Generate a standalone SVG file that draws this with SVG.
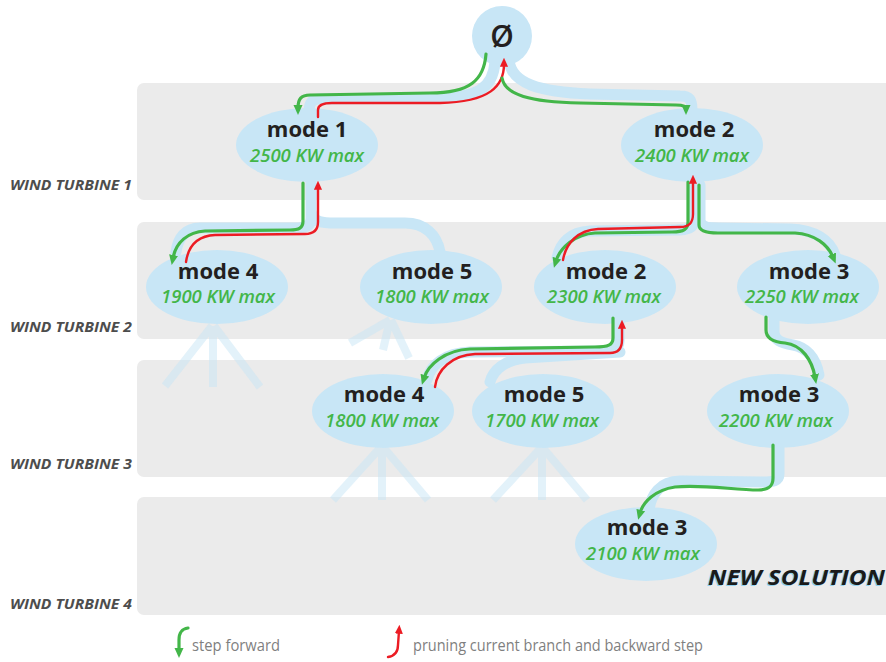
<svg xmlns="http://www.w3.org/2000/svg" width="886" height="662" viewBox="0 0 886 662">
<style>
.band{fill:#ebebeb}
.node{fill:#c8e6f6}
.title{font-family:"Open Sans","Noto Sans",sans-serif;font-weight:700;font-size:22px;fill:#231f20;text-anchor:middle}
.val{font-family:"Open Sans","Noto Sans",sans-serif;font-weight:600;font-style:italic;font-size:18.5px;fill:#43b649;text-anchor:middle}
.wt{font-family:"Open Sans","Noto Sans",sans-serif;font-weight:700;font-style:italic;font-size:13.5px;fill:#4d4d4d}
.tree{fill:none;stroke:#c8e6f6;stroke-width:11;stroke-linecap:round;stroke-linejoin:round}
.stub{fill:none;stroke:#c8e6f6;stroke-opacity:0.5;stroke-width:8}
.fwd{fill:none;stroke:#43b649;stroke-width:3.2;stroke-linecap:round;marker-end:url(#gh)}
.back{fill:none;stroke:#ec1c24;stroke-width:2.4;stroke-linecap:round;marker-end:url(#rh)}
.leg{font-family:"Open Sans","Noto Sans",sans-serif;font-size:17px;fill:#7f7f7f}
</style>
<defs>
<marker id="gh" viewBox="0 0 10 10" refX="3" refY="5" markerWidth="10" markerHeight="10" markerUnits="userSpaceOnUse" orient="auto">
<path d="M0,0.5 L10,5 L0,9.5 z" fill="#43b649"/>
</marker>
<marker id="rh" viewBox="0 0 10 10" refX="3" refY="5" markerWidth="9" markerHeight="9" markerUnits="userSpaceOnUse" orient="auto">
<path d="M0,0.5 L10,5 L0,9.5 z" fill="#ec1c24"/>
</marker>
</defs>
<rect width="886" height="662" fill="#ffffff"/>
<g id="bands">
<rect class="band" x="137" y="83" width="760" height="117" rx="7"/>
<rect class="band" x="137" y="222" width="760" height="117" rx="7"/>
<rect class="band" x="137" y="360" width="760" height="117" rx="7"/>
<rect class="band" x="137" y="497" width="760" height="118" rx="7"/>
<text class="wt" x="10" y="190" textLength="122" lengthAdjust="spacingAndGlyphs">WIND TURBINE 1</text>
<text class="wt" x="10" y="332" textLength="122" lengthAdjust="spacingAndGlyphs">WIND TURBINE 2</text>
<text class="wt" x="10" y="469" textLength="122" lengthAdjust="spacingAndGlyphs">WIND TURBINE 3</text>
<text class="wt" x="10" y="609" textLength="122" lengthAdjust="spacingAndGlyphs">WIND TURBINE 4</text>
</g>
<g id="tree-edges">
<path class="stub" d="M212,326 L165,386 M213,326 L213,387 M214,326 L260,387"/>
<path class="stub" d="M390,320 L350,343 M390,320 L383,350 M391,320 L409,358"/>
<path class="stub" d="M380,448 L333,500 M382,448 L382,500 M384,448 L428,500"/>
<path class="stub" d="M541,448 L493,500 M542,448 L542,500 M543,448 L587,500"/>
<path class="tree" d="M495,62 C493,88 478,98 435,98 L320,99 C311,99 309,104 309,112"/>
<path class="tree" d="M509,60 C511,84 540,92 590,94 L680,96 C690,96 692,100 692,110"/>
<path class="tree" d="M311,183 L311,218 C311,226 306,228 295,228 L200,228 C185,228 178,238 176,252"/>
<path class="tree" d="M312,214 C314,222 322,223 335,223 L405,223 C425,223 437,235 440,252"/>
<path class="tree" d="M694,182 L694,220 C694,228 688,230 675,230 L590,231 C570,232 560,243 557,258"/>
<path class="tree" d="M700,185 L700,220 C700,226 706,228 718,228 L790,229 C815,230 830,240 835,255"/>
<path class="tree" d="M619,320 L619,341 C619,349 613,351 600,351 L470,352 C445,353 430,365 427,380"/>
<path class="tree" d="M620,352 L525,358 C505,360 493,370 490,382"/>
<path class="tree" d="M774,320 L774,332 C774,340 781,343 793,345 C809,348 816,360 819,375"/>
<path class="tree" d="M779,446 L779,474 C779,481 773,482 763,482 L680,481 C660,481 651,495 649,510"/>
</g>
<g id="n0"><circle class="node" cx="502" cy="36" r="30"/><text class="title" x="502" y="47" style="font-size:30px;font-weight:600">Ø</text></g>
<g id="n1"><ellipse class="node" cx="307" cy="145" rx="71" ry="37"/><text class="title" x="307" y="137">mode 1</text><text class="val" x="307" y="162">2500 KW max</text></g>
<g id="n2"><ellipse class="node" cx="692" cy="145" rx="71" ry="37"/><text class="title" x="694" y="137">mode 2</text><text class="val" x="692" y="162">2400 KW max</text></g>
<g id="n3"><ellipse class="node" cx="217" cy="287" rx="71" ry="37"/><text class="title" x="218" y="279">mode 4</text><text class="val" x="218" y="303">1900 KW max</text></g>
<g id="n4"><ellipse class="node" cx="431" cy="287" rx="71" ry="37"/><text class="title" x="432" y="279">mode 5</text><text class="val" x="432" y="303">1800 KW max</text></g>
<g id="n5"><ellipse class="node" cx="605" cy="287" rx="71" ry="37"/><text class="title" x="606" y="279">mode 2</text><text class="val" x="604" y="303">2300 KW max</text></g>
<g id="n6"><ellipse class="node" cx="808" cy="287" rx="71" ry="37"/><text class="title" x="809" y="279">mode 3</text><text class="val" x="802" y="303">2250 KW max</text></g>
<g id="n7"><ellipse class="node" cx="383" cy="411" rx="71" ry="37"/><text class="title" x="384" y="402">mode 4</text><text class="val" x="382" y="427">1800 KW max</text></g>
<g id="n8"><ellipse class="node" cx="543" cy="411" rx="71" ry="37"/><text class="title" x="544" y="402">mode 5</text><text class="val" x="542" y="427">1700 KW max</text></g>
<g id="n9"><ellipse class="node" cx="778" cy="411" rx="71" ry="37"/><text class="title" x="779" y="402">mode 3</text><text class="val" x="776" y="427">2200 KW max</text></g>
<g id="n10"><ellipse class="node" cx="646" cy="544" rx="71" ry="37"/><text class="title" x="647" y="535">mode 3</text><text class="val" x="643" y="560">2100 KW max</text></g>
<g id="search-path">
<path class="fwd" d="M486,54 C484,80 470,93 430,93 L310,95 C301,95 298,99 298,108"/>
<path class="back" d="M318,117 L318,110 C318,105 322,103 332,103 L440,103 C490,102 504,86 504,64"/>
<path class="fwd" d="M502,78 C505,95 530,102 580,103 L676,105 C684,105 686,107 686,108"/>
<path class="fwd" d="M303,183 L303,221 C303,228 299,230 290,230 L205,231 C188,232 176,242 173,258"/>
<path class="back" d="M186,262 C188,248 196,236 215,235 L305,234 C314,234 318,230 318,222 L318,187"/>
<path class="fwd" d="M688,182 L688,222 C688,229 684,232 672,232 L595,233 C575,234 560,248 556,261"/>
<path class="back" d="M563,260 C566,243 578,230 598,229 L680,227 C690,227 693,222 693,214 L693,181"/>
<path class="fwd" d="M699,185 L699,225 C699,231 706,233 718,233 L795,233 C815,234 828,245 833,257"/>
<path class="fwd" d="M613,318 L613,338 C613,345 608,347 595,347 L470,349 C445,350 428,365 424,378"/>
<path class="back" d="M435,387 C437,370 452,355 475,354 L610,353 C618,353 622,349 622,340 L622,326"/>
<path class="fwd" d="M766,317 L766,330 C766,338 772,342 785,343 C802,345 812,360 815,377"/>
<path class="fwd" d="M773,445 L773,478 C773,487 768,490 758,490 C735,490 700,484 675,487 C655,490 643,502 640,513"/>
</g>
<g id="new-solution">
<text x="706.5" y="586" textLength="177" lengthAdjust="spacingAndGlyphs" style="font-family:'Open Sans','Noto Sans',sans-serif;font-weight:700;font-style:italic;font-size:22px;fill:#8fd0f0">NEW SOLUTION</text>
<text x="708" y="585" textLength="177" lengthAdjust="spacingAndGlyphs" style="font-family:'Open Sans','Noto Sans',sans-serif;font-weight:700;font-style:italic;font-size:22px;fill:#1a1a1a">NEW SOLUTION</text>
</g>
<g id="legend">
<path class="fwd" d="M188,628 C181,629 179,633 179,640 L179,651"/>
<text class="leg" x="192" y="651" textLength="88" lengthAdjust="spacingAndGlyphs">step forward</text>
<path class="back" d="M388,657 C395,656 398,652 398,645 L399,631"/>
<text class="leg" x="413" y="651" textLength="290" lengthAdjust="spacingAndGlyphs">pruning current branch and backward step</text>
</g>
</svg>
